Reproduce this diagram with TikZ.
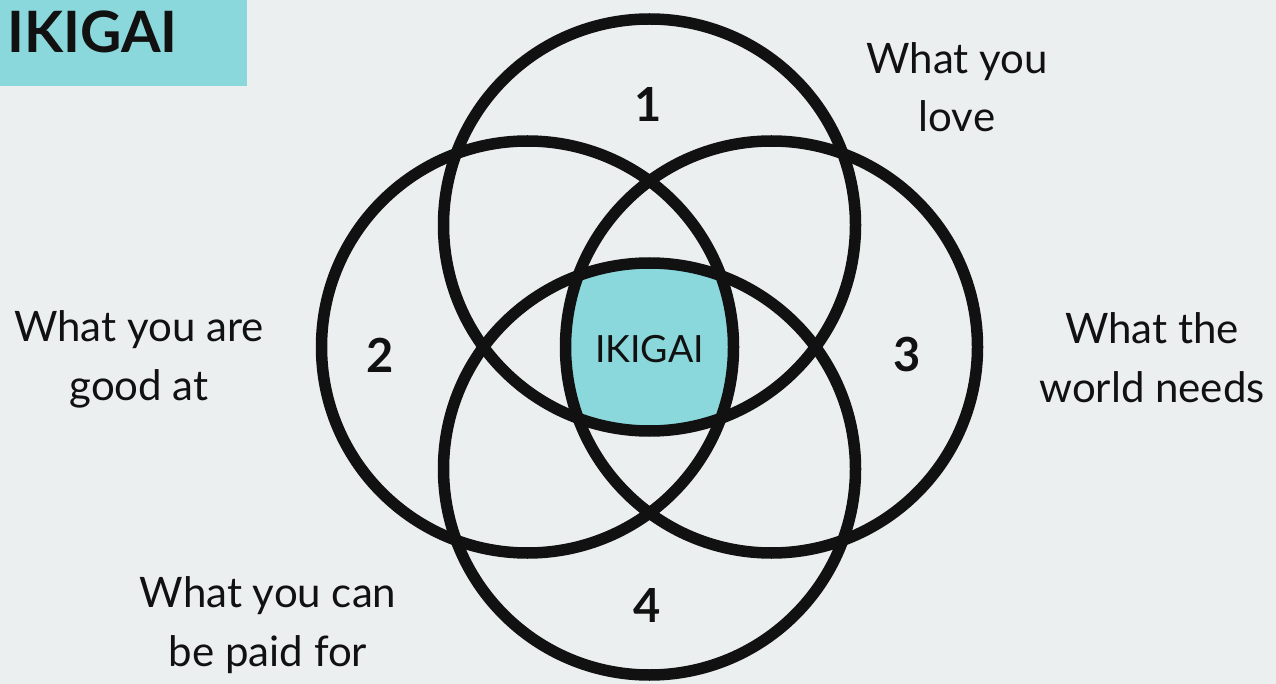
\documentclass[tikz,border=0pt]{standalone}
\usepackage{fontspec}
\setmainfont{Lato}
\definecolor{bg}{HTML}{ECEFF0}
\definecolor{teal}{HTML}{8AD8DC}
\definecolor{ink}{HTML}{111111}
\begin{document}
\begin{tikzpicture}[x=1pt,y=-1pt,
  ring/.style={draw=ink,line width=11.5pt},
  label/.style={anchor=base,align=center,text=ink,inner sep=0pt,font=\fontsize{42}{58.5}\selectfont},
  num/.style={anchor=center,text=ink,inner sep=0pt,font=\bfseries\fontsize{47}{47}\selectfont},
]
\useasboundingbox (0,0) rectangle (1276,684);
\fill[bg] (0,0) rectangle (1276,684);
% title
\fill[teal] (0,0) rectangle (247,86);
\node[anchor=base west,inner sep=0pt,text=ink,font=\bfseries\fontsize{57}{57}\selectfont] (title) at (7,53) {IKIGAI};
% circle centres
\coordinate (ct) at (649.5,225);
\coordinate (cl) at (527.5,347);
\coordinate (cr) at (771.5,347);
\coordinate (cb) at (649.5,469);
% centre fill
\begin{scope}
  \clip (ct) circle[radius=206];
  \clip (cl) circle[radius=206];
  \clip (cr) circle[radius=206];
  \fill[teal] (cb) circle[radius=206];
\end{scope}
\draw[ring] (ct) circle[radius=206];
\draw[ring] (cl) circle[radius=206];
\draw[ring] (cr) circle[radius=206];
\draw[ring] (cb) circle[radius=206];
% numbers
\node[num] (n1) at (648,104) {1};
\node[num] (n2) at (380,355) {2};
\node[num] (n3) at (907,355) {3};
\node[num] (n4) at (647,605) {4};
\node[anchor=center,text=ink,inner sep=0pt,font=\fontsize{37.5}{37.5}\selectfont] (centre) at (649.5,349) {IKIGAI};
% labels
\node[label] (love) at (957,132) {What you\\love};
\node[label] (good) at (139,400) {What you are\\good at};
\node[label] (world) at (1152,402) {What the\\world needs};
\node[label] (paid) at (268,666) {What you can\\be paid for};
\end{tikzpicture}
\end{document}
